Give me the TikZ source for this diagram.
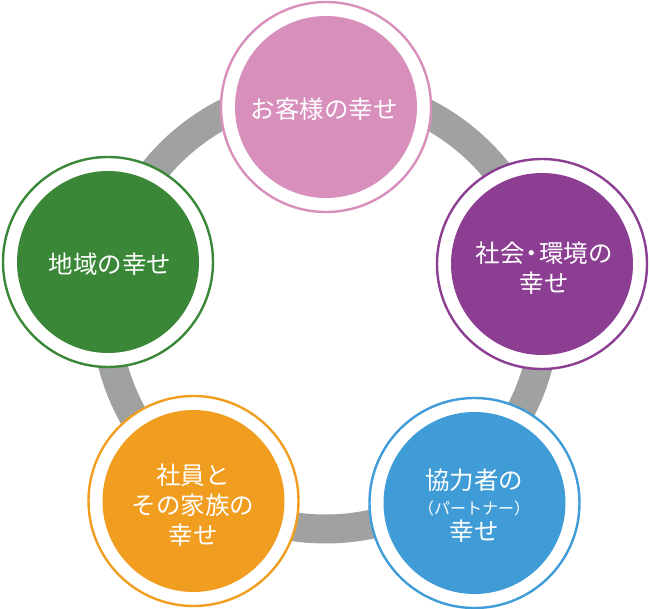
\documentclass[tikz,border=0pt]{standalone}
\usepackage{fontspec}
\setmainfont{Noto Sans CJK JP}
\definecolor{cpink}{RGB}{216,143,188}
\definecolor{cpurple}{RGB}{139,62,146}
\definecolor{cgreen}{RGB}{59,135,56}
\definecolor{corange}{RGB}{240,157,32}
\definecolor{cblue}{RGB}{64,156,215}
\definecolor{cgray}{RGB}{160,162,161}
\tikzset{
  ring/.style={draw=cgray, line width=29pt},
  outerring/.style={circle, minimum size=210pt, inner sep=0pt, draw=#1, line width=2.4pt, fill=white},
  disc/.style={circle, minimum size=182pt, inner sep=0pt, fill=#1, text=white, align=center,
    font=\fontsize{24.5}{30}\selectfont},
  label text/.style={inner sep=0pt, text=white, align=center, font=\fontsize{24.5}{30}\selectfont}
}
\begin{document}
\begin{tikzpicture}[x=1pt,y=-1pt]
\useasboundingbox (0,0) rectangle (651,609);
\coordinate (ringc) at (325.5,309);
\draw[ring] (ringc) circle[radius=220];
% top
\node[outerring=cpink] (o1) at (326,107) {};
\node[disc=cpink] (c1) at (o1.center) {};
\node[label text] (t1) at (324,109) {お客様の幸せ};
% right
\node[outerring=cpurple] (o2) at (542,264) {};
\node[disc=cpurple] (c2) at (o2.center) {};
\node[label text] (t2) at (544,268) {社会\kern-5pt・\kern-5pt環境の\\幸せ};
% bottom right
\node[outerring=cblue] (o3) at (474.5,503) {};
\node[disc=cblue] (c3) at (o3.center) {};
\node[label text] (t3) at (474,506) {協力者の\\[-5pt]{\fontsize{16}{18}\selectfont （パートナー）}\\[-4pt]幸せ};
% bottom left
\node[outerring=corange] (o4) at (193.5,501) {};
\node[disc=corange] (c4) at (o4.center) {};
\node[label text] (t4) at (193,505) {社員と\\その家族の\\幸せ};
% left
\node[outerring=cgreen] (o5) at (108,262) {};
\node[disc=cgreen] (c5) at (o5.center) {};
\node[label text] (t5) at (110,264) {地域の幸せ};
\end{tikzpicture}
\end{document}
